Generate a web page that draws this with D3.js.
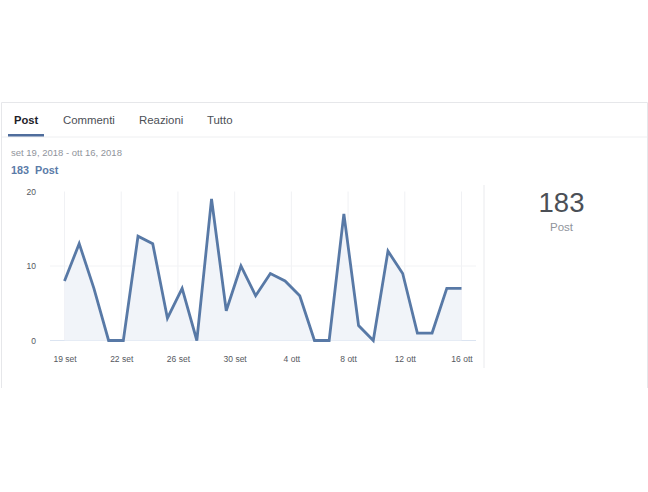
<!DOCTYPE html>
<html>
<head>
<meta charset="utf-8">
<script src="https://cdn.jsdelivr.net/npm/d3@7"></script>
<style>
  html, body { margin: 0; padding: 0; background: #fff; }
  svg { display: block; font-family: "Liberation Sans", Arial, sans-serif; }
</style>
</head>
<body>
<svg id="chart" width="648" height="492"></svg>
<script>
const tabs = ['Post', 'Commenti', 'Reazioni', 'Tutto'];
const tabX = [14, 63, 139, 207];
const days = d3.range(28);
const posts = [8, 13, 7, 0, 0, 14, 13, 3, 7, 0, 19, 4, 10, 6, 9, 8, 6, 0, 0, 17, 2, 0, 12, 9, 1, 1, 7, 7];
const xLabels = ['19 set', '22 set', '26 set', '30 set', '4 ott', '8 ott', '12 ott', '16 ott'];
const yTicks = [0, 10, 20];

const svg = d3.select('#chart');

// card
svg.append('path')
  .attr('d', 'M1.5,388V102.5H647.5V388')
  .attr('fill', 'none')
  .attr('stroke', '#e6e7ea');
svg.append('line')
  .attr('x1', 2).attr('x2', 647)
  .attr('y1', 137).attr('y2', 137)
  .attr('stroke', '#eeeff1');

// tabs
svg.selectAll('.tab')
  .data(tabs)
  .enter()
  .append('text')
  .attr('class', 'tab')
  .attr('x', (d, i) => tabX[i])
  .attr('y', 124)
  .attr('font-size', (d, i) => i === 0 ? 11.2 : 11.4)
  .attr('font-weight', (d, i) => i === 0 ? 'bold' : 'normal')
  .attr('fill', (d, i) => i === 0 ? '#1d2129' : '#4b4f56')
  .text(d => d);
svg.append('rect')
  .attr('x', 8).attr('y', 134)
  .attr('width', 36).attr('height', 2.5)
  .attr('fill', '#4f6d9c');

// header
svg.append('text')
  .attr('x', 11).attr('y', 156)
  .attr('font-size', 9.5)
  .attr('fill', '#90949c')
  .text('set 19, 2018 - ott 16, 2018');
svg.append('text')
  .attr('x', 11).attr('y', 174)
  .attr('font-size', 10.8)
  .attr('font-weight', 'bold')
  .attr('fill', '#5b7ba8')
  .attr('xml:space', 'preserve')
  .text('183  Post');

const x = d3.scalePoint().domain(days).range([64.5, 461.5]);
const xTick = d3.scalePoint().domain(xLabels).range([64.5, 461.5]);
const y = d3.scaleLinear().domain([0, 20]).range([340.5, 191.5]);

// grid
svg.append('g')
  .selectAll('line')
  .data(xLabels)
  .enter()
  .append('line')
  .attr('x1', d => xTick(d)).attr('x2', d => xTick(d))
  .attr('y1', y(20)).attr('y2', y(0))
  .attr('stroke', '#f0f1f4');
svg.append('g')
  .selectAll('line')
  .data(yTicks)
  .enter()
  .append('line')
  .attr('x1', 50).attr('x2', 476)
  .attr('y1', d => y(d)).attr('y2', d => y(d))
  .attr('stroke', d => d === 0 ? '#dbe4f1' : (d === 10 ? '#f2f3f5' : 'none'));

// area + line
const area = d3.area()
  .x((d, i) => x(i))
  .y0(y(0))
  .y1(d => y(d));
const line = d3.line()
  .x((d, i) => x(i))
  .y(d => y(d));

svg.append('path')
  .datum(posts)
  .attr('d', area)
  .attr('fill', '#f1f4f9');
svg.append('path')
  .datum(posts)
  .attr('d', line)
  .attr('fill', 'none')
  .attr('stroke', '#5879a6')
  .attr('stroke-width', 2.8)
  .attr('stroke-linejoin', 'miter');

// axes
const xAxis = svg.append('g')
  .attr('transform', 'translate(0,340.5)')
  .call(d3.axisBottom(xTick).tickSize(0).tickPadding(15));
const yAxis = svg.append('g')
  .attr('transform', 'translate(50,0)')
  .call(d3.axisLeft(y).tickValues(yTicks).tickSize(0).tickPadding(14));
xAxis.select('.domain').remove();
yAxis.select('.domain').remove();
xAxis.selectAll('text')
  .attr('font-family', 'inherit')
  .attr('font-size', 8.5)
  .attr('fill', '#55585e');
yAxis.selectAll('text')
  .attr('font-family', 'inherit')
  .attr('font-size', 8.5)
  .attr('fill', '#55585e');

// divider and total
svg.append('line')
  .attr('x1', 484).attr('x2', 484)
  .attr('y1', 185).attr('y2', 368)
  .attr('stroke', '#e9eaed');
svg.append('text')
  .attr('x', 561.5).attr('y', 212)
  .attr('text-anchor', 'middle')
  .attr('font-size', 27.5)
  .attr('fill', '#4b4f56')
  .text('183');
svg.append('text')
  .attr('x', 561.5).attr('y', 231)
  .attr('text-anchor', 'middle')
  .attr('font-size', 11.5)
  .attr('fill', '#90949c')
  .text('Post');
</script>
</body>
</html>
